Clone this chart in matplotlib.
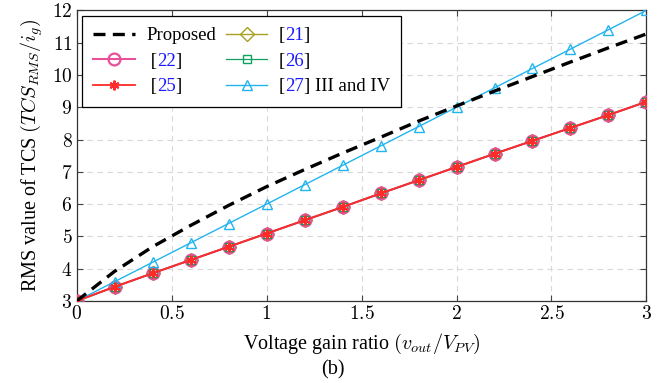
import numpy as np
import matplotlib
matplotlib.use("Agg")
import matplotlib.pyplot as plt
from matplotlib.ticker import FuncFormatter
from matplotlib.text import Text
from matplotlib.transforms import Affine2D

# ---------------- data ----------------
x = [0.0, 0.2, 0.4, 0.6, 0.8, 1.0, 1.2, 1.4, 1.6, 1.8, 2.0, 2.2, 2.4, 2.6, 2.8, 3.0]
proposed = [3.0, 3.92, 4.68, 5.34, 5.96, 6.54, 7.07, 7.58, 8.07, 8.57, 9.04, 9.5, 9.95, 10.4, 10.84, 11.27]
ref_common = [3.0, 3.44, 3.86, 4.27, 4.68, 5.09, 5.50, 5.91, 6.33, 6.74, 7.15, 7.56, 7.96, 8.36, 8.76, 9.17]
ref21 = ref_common
ref22 = ref_common
ref25 = ref_common
ref26 = ref_common
ref27 = [3.0, 3.6, 4.2, 4.8, 5.4, 6.0, 6.6, 7.2, 7.8, 8.4, 9.0, 9.6, 10.2, 10.8, 11.4, 12.0]

xticks = [0, 0.5, 1, 1.5, 2, 2.5, 3]
yticks = [3, 4, 5, 6, 7, 8, 9, 10, 11, 12]

# ---------------- style ----------------
plt.rcParams['font.family'] = ['Liberation Serif', 'DejaVu Serif']
plt.rcParams['mathtext.fontset'] = 'cm'
FS_TICK = 14
FS_LABEL = 14.5
FS_LEG = 13.5

fig = plt.figure(figsize=(6.72, 3.83), dpi=100)
ax = fig.add_axes([0.114, 0.214, 0.848, 0.759])

c_pink = '#e8509a'
c_red = '#ff2a2a'
c_olive = '#a8a020'
c_green = '#10a060'
c_cyan = '#22b4ee'

ax.plot(x, proposed, color='black', lw=2.4, ls=(0, (3.6, 2.2)), label='Proposed', zorder=6)
ax.plot(x, ref22, color=c_pink, lw=1.5, marker='o', ms=8.5, mfc='none', mew=1.6,
        label=' [22]', zorder=3)
ax.plot(x, ref25, color=c_red, lw=1.3, marker=(6, 2, 0), ms=7, mew=1.5,
        label=' [25]', zorder=5)
ax.plot(x, ref21, color=c_olive, lw=1.0, marker='D', ms=7.5, mfc='none', mew=1.0,
        label='[21]', zorder=2)
ax.plot(x, ref26, color=c_green, lw=0.9, marker='s', ms=5.5, mfc='none', mew=1.0,
        label='[26]', zorder=4)
ax.plot(x, ref27, color=c_cyan, lw=1.0, marker='^', ms=7.5, mfc='none', mew=1.0,
        label='[27] III and IV', zorder=4)

ax.set_xlim(0, 3)
ax.set_ylim(3, 12)
ax.set_xticks(xticks)
ax.set_yticks(yticks)
fmt = FuncFormatter(lambda v, p: r'$%g$' % v)
ax.xaxis.set_major_formatter(fmt)
ax.yaxis.set_major_formatter(fmt)
ax.tick_params(direction='in', top=True, right=True, labelsize=FS_TICK, length=4,
               width=0.8, color='#444444', pad=3)
ax.grid(True, color='#d8d8d8', ls=(0, (5, 4)), lw=0.8)
ax.set_axisbelow(True)
for s in ax.spines.values():
    s.set_linewidth(0.9)
    s.set_color('#333333')

ax.set_xlabel(r'Voltage gain ratio $(v_{out}/V_{PV})$', fontsize=FS_LABEL, labelpad=6)
ax.set_ylabel(r'RMS value of TCS $(TCS_{RMS}/i_g)$', fontsize=FS_LABEL, labelpad=5)
fig.text(0.495, 0.01, '(b)', fontsize=FS_LABEL, ha='center', va='bottom')

leg = ax.legend(loc='upper left', ncol=2, fontsize=FS_LEG, frameon=True, fancybox=False,
                framealpha=1, edgecolor='black', handlelength=2.2, handletextpad=0.6,
                columnspacing=0.55, labelspacing=0.45, borderpad=0.6,
                bbox_to_anchor=(0.0, 1.0), borderaxespad=0.3)
leg.get_frame().set_linewidth(0.9)
leg.set_zorder(10)

# multi-coloured legend labels (citation numbers in blue)
parts_map = {
    ' [22]': [(' [', 'black'), ('22', '#1a1aff'), (']', 'black')],
    ' [25]': [(' [', 'black'), ('25', '#1a1aff'), (']', 'black')],
    '[21]': [('[', 'black'), ('21', '#1a1aff'), (']', 'black')],
    '[26]': [('[', 'black'), ('26', '#1a1aff'), (']', 'black')],
    '[27] III and IV': [('[', 'black'), ('27', '#1a1aff'), ('] III and IV', 'black')],
}
fig.canvas.draw()
renderer = fig.canvas.get_renderer()
for t in leg.get_texts():
    s = t.get_text()
    if s not in parts_map:
        continue
    t.set_alpha(0)
    off = 0.0
    prop = t.get_fontproperties()
    for piece, col in parts_map[s]:
        px, py = t.get_position()
        nt = Text(px, py, piece, color=col, fontproperties=prop,
                  va=t.get_va(), ha='left',
                  transform=t.get_transform() + Affine2D().translate(off, 0))
        nt.set_zorder(11)
        fig.add_artist(nt)
        w, h, d = renderer.get_text_width_height_descent(piece, prop, ismath=False)
        off += w

fig.savefig('out.png', dpi=100)
